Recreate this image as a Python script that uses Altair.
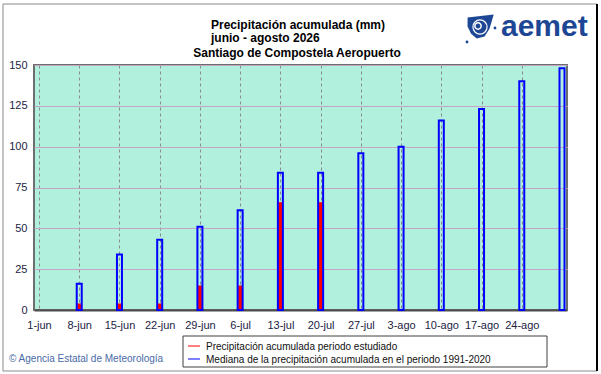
import json
import altair as alt
import pandas as pd

# ---------------- data ----------------
inicio = "2026-06-01"
fechas = ["2026-06-08", "2026-06-15", "2026-06-22", "2026-06-29", "2026-07-06",
          "2026-07-13", "2026-07-20", "2026-07-27", "2026-08-03", "2026-08-10",
          "2026-08-17", "2026-08-24", "2026-08-31"]
mediana = [16, 34, 43, 51, 61, 84, 84, 96, 100, 116, 123, 140, 148]
observada = [4, 4, 4, 15, 15, 66, 66]
etiquetas = ["1-jun", "8-jun", "15-jun", "22-jun", "29-jun", "6-jul", "13-jul",
             "20-jul", "27-jul", "3-ago", "10-ago", "17-ago", "24-ago"]
marcas_y = [0, 25, 50, 75, 100, 125, 150]

titulo = ["Precipitación acumulada (mm)", "junio - agosto 2026",
          "Santiago de Compostela Aeropuerto"]
leyenda = ["Precipitación acumulada periodo estudiado",
           "Mediana de la precipitación acumulada en el periodo 1991-2020"]
credito = "© Agencia Estatal de Meteorología"

# ---------------- tables ----------------
d0 = pd.Timestamp(inicio)
dias = [(pd.Timestamp(f) - d0).days for f in fechas]
df_med = pd.DataFrame({"dia": dias, "mm": mediana})
df_obs = pd.DataFrame({"dia": dias[:len(observada)], "mm": observada})
tick_dias = [0] + dias[:-1]

FONT = "Liberation Sans"
LABEL_COLOR = "#1c1c44"

label_expr = json.dumps(etiquetas).replace('"', "'") + "[round(datum.value/7)]"

x_scale = alt.Scale(domain=[0, dias[-1]], nice=False, zero=False)
y_scale = alt.Scale(domain=[0, 150], nice=False)

x_axis = alt.Axis(values=tick_dias, labelExpr=label_expr, title=None, grid=True,
                  gridColor="#8a8a8a", gridDash=[3, 3], gridWidth=1,
                  ticks=False, tickSize=0, domain=True, domainColor="#4d4d4d",
                  domainWidth=2, labelFont=FONT, labelFontSize=11,
                  labelColor=LABEL_COLOR, labelPadding=9, labelFlush=False)
y_axis = alt.Axis(values=marcas_y, title=None, grid=True, gridColor="#c6a4c8",
                  gridWidth=1, ticks=False, tickSize=0, domain=False,
                  labelFont=FONT, labelFontSize=11, labelColor=LABEL_COLOR,
                  labelPadding=7)

rojas = alt.Chart(df_obs).mark_bar(color="#ff0000", size=4).encode(
    x=alt.X("dia:Q", scale=x_scale, axis=x_axis),
    y=alt.Y("mm:Q", scale=y_scale, axis=y_axis),
)
azules = alt.Chart(df_med).mark_bar(filled=False, stroke="#0000ff", color="#0000ff",
                                    strokeWidth=2, size=5).encode(
    x=alt.X("dia:Q", scale=x_scale, axis=x_axis),
    y=alt.Y("mm:Q", scale=y_scale, axis=y_axis),
)


def texto(t, x, y, size=12, weight="normal", color="#000000", align="left", font=FONT):
    return alt.Chart(pd.DataFrame({"t": [t]})).mark_text(
        align=align, baseline="alphabetic", font=font, fontSize=size,
        fontWeight=weight, color=color).encode(
        text="t:N", x=alt.value(x), y=alt.value(y))


one = pd.DataFrame({"k": [0]})

# outer frame
marco = alt.Chart(one).mark_rect(filled=False, stroke="#8a8a8a", strokeWidth=1).encode(
    x=alt.value(-31), x2=alt.value(563), y=alt.value(-61), y2=alt.value(306))
marco_der = alt.Chart(one).mark_rule(color="#000000", strokeWidth=2).encode(
    x=alt.value(563), y=alt.value(-61), y2=alt.value(306))

# titles
t1 = texto(titulo[0], 264, -36, weight="bold", align="center")
t2 = texto(titulo[1], 177, -23, weight="bold", align="left")
t3 = texto(titulo[2], 263, -8, weight="bold", align="center")

# logo
LOGO = "#1d4694"
logo_txt = texto("aemet", 467, -29, size=30, weight="bold", color=LOGO)
blob_path = "M -0.95,-0.75 L 0.9,-0.95 L 0.6,0.05 L 0.25,0.6 L -0.3,0.75 L -0.7,0.4 L -0.95,-0.1 Z"
logo_blob = alt.Chart(one).mark_point(shape=blob_path, filled=True, color=LOGO,
                                      opacity=1, size=800).encode(
    x=alt.value(447), y=alt.value(-37))
logo_ring = alt.Chart(one).mark_point(shape="circle", filled=False, color="#ffffff",
                                      strokeWidth=1.5, opacity=1, size=40).encode(
    x=alt.value(444), y=alt.value(-39))
logo_ring2 = alt.Chart(one).mark_point(shape="circle", filled=False, color="#ffffff",
                                       strokeWidth=1.2, opacity=1, size=200).encode(
    x=alt.value(446), y=alt.value(-38))
logo_dot1 = alt.Chart(one).mark_point(shape="circle", filled=True, color=LOGO,
                                      opacity=1, size=8).encode(
    x=alt.value(433), y=alt.value(-23))
logo_dot2 = alt.Chart(one).mark_point(shape="circle", filled=True, color=LOGO,
                                      opacity=1, size=8).encode(
    x=alt.value(461), y=alt.value(-37))

# legend
caja = alt.Chart(one).mark_rect(fill="#ffffff", stroke="#404040", strokeWidth=1).encode(
    x=alt.value(149), x2=alt.value(513), y=alt.value(271), y2=alt.value(302))
lin_r = alt.Chart(one).mark_rule(color="#ff0000", strokeWidth=1).encode(
    x=alt.value(154), x2=alt.value(166), y=alt.value(281))
lin_b = alt.Chart(one).mark_rule(color="#0000ff", strokeWidth=1).encode(
    x=alt.value(154), x2=alt.value(166), y=alt.value(294))
ley1 = texto(leyenda[0], 172, 285, size=10, color="#101010")
ley2 = texto(leyenda[1], 172, 298, size=10, color="#101010")

cred = texto(credito, -25, 297, size=10, color="#4a6aa8")

chart = alt.layer(
    rojas, azules, marco, marco_der, t1, t2, t3,
    logo_blob, logo_ring2, logo_ring, logo_dot1, logo_dot2, logo_txt,
    caja, lin_r, lin_b, ley1, ley2, cred,
).properties(
    width=533, height=245,
    autosize=alt.AutoSizeParams(type="none"),
    padding={"left": 34, "top": 65, "right": 34, "bottom": 64},
).configure(background="#ffffff").configure_view(
    fill="#b0f0dc", stroke="#6e6e6e", strokeWidth=2
)

chart.save("out.html", embed_options={"renderer": "svg", "actions": False})
